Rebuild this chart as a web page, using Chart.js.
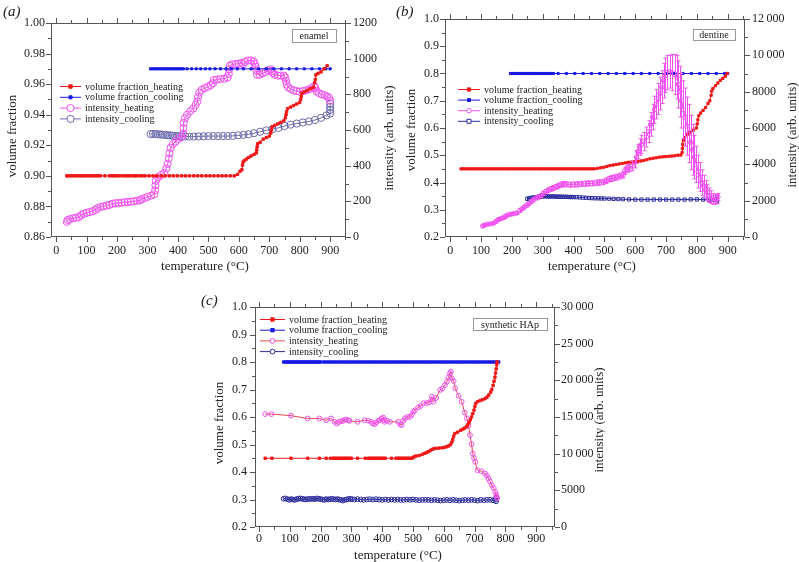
<!DOCTYPE html>
<html>
<head>
<meta charset="utf-8">
<script src="https://cdn.jsdelivr.net/npm/chart.js@4.4.0/dist/chart.umd.min.js"></script>
<style>
  body { margin: 0; background: #fff; width: 799px; height: 562px; position: relative; overflow: hidden; font-family: 'Liberation Serif', serif; }
  canvas { position: absolute; }
  .lbl { position: absolute; font-style: italic; font-size: 15px; line-height: 1; color: #222; }
</style>
</head>
<body>
<canvas id="ca" width="400" height="280" style="left:0;top:0"></canvas>
<canvas id="cb" width="399" height="280" style="left:400px;top:0"></canvas>
<canvas id="cc" width="455" height="282" style="left:150px;top:280px"></canvas>
<div class="lbl" style="left:3px;top:4px">(a)</div>
<div class="lbl" style="left:396px;top:4px">(b)</div>
<div class="lbl" style="left:201px;top:293px">(c)</div>
<script>
// tick labels
const tempTicks = [0, 100, 200, 300, 400, 500, 600, 700, 800, 900];
const enamelVfTicks = [0.86, 0.88, 0.90, 0.92, 0.94, 0.96, 0.98, 1.00];
const enamelIntTicks = [0, 200, 400, 600, 800, 1000, 1200];
const vfTicks = [0.2, 0.3, 0.4, 0.5, 0.6, 0.7, 0.8, 0.9, 1.0];
const dentineIntTicks = [0, 2000, 4000, 6000, 8000, 10000, 12000];
const hapIntTicks = [0, 5000, 10000, 15000, 20000, 25000, 30000];
const seriesNames = ['volume fraction_heating', 'volume fraction_cooling', 'intensity_heating', 'intensity_cooling'];

// (a) enamel: [temperature, value]
const enamelVfHeating = [[35,.90],[40,.90],[48,.90],[55,.90],[62,.90],[70,.90],[78,.90],[85,.90],[92,.90],[100,.90],[108,.90],[115,.90],[122,.90],[130,.90],[138,.90],[145,.90],[160,.90],[175,.90],[183,.90],[190,.90],[198,.90],[205,.90],[215,.90],[225,.90],[232,.90],[240,.90],[250,.90],[258,.90],[265,.90],[275,.90],[283,.90],[292,.90],[305,.90],[318,.90],[330,.90],[345,.90],[358,.90],[372,.90],[385,.90],[398,.90],[412,.90],[425,.90],[438,.90],[452,.90],[465,.90],[478,.90],[492,.90],[505,.90],[518,.90],[532,.90],[545,.90],[558,.90],[572,.90],[585,.90],[596,.901],[604,.903],[610,.904],[612,.907],[614,.909],[618,.910],[625,.911],[632,.912],[640,.913],[650,.914],[657,.915],[659,.917],[660,.919],[662,.921],[670,.922],[680,.924],[690,.925],[700,.926],[705,.928],[707,.930],[709,.932],[718,.933],[728,.934],[738,.935],[748,.936],[753,.938],[755,.940],[757,.942],[760,.944],[770,.945],[780,.946],[790,.947],[800,.948],[803,.950],[805,.952],[807,.954],[815,.955],[825,.956],[835,.957],[845,.958],[849,.961],[851,.963],[853,.966],[860,.967],[870,.968],[880,.970],[890,.972]];
const enamelVfCooling = [[310,.97],[316,.97],[322,.97],[328,.97],[334,.97],[340,.97],[346,.97],[352,.97],[358,.97],[364,.97],[370,.97],[376,.97],[382,.97],[388,.97],[394,.97],[400,.97],[406,.97],[412,.97],[418,.97],[430,.97],[445,.97],[460,.97],[475,.97],[490,.97],[505,.97],[522,.97],[540,.97],[558,.97],[575,.97],[595,.97],[615,.97],[640,.97],[665,.97],[690,.97],[715,.97],[740,.97],[765,.97],[790,.97],[815,.97],[840,.97],[865,.97],[885,.97],[900,.97]];
const enamelIntHeating = [[35,85],[38,95],[45,100],[55,105],[65,108],[75,112],[82,122],[90,130],[100,135],[110,140],[120,145],[130,152],[135,162],[145,168],[155,172],[165,176],[175,180],[185,186],[195,190],[205,190],[215,192],[225,195],[235,196],[245,198],[255,200],[265,203],[275,205],[280,212],[290,218],[300,225],[312,232],[322,240],[325,262],[326,290],[328,315],[335,335],[345,348],[355,360],[362,385],[366,410],[370,440],[372,470],[376,500],[383,520],[392,535],[402,550],[412,560],[417,580],[418,610],[419,640],[423,665],[430,685],[440,705],[450,720],[458,740],[464,760],[466,785],[470,810],[478,825],[488,835],[498,842],[508,852],[515,862],[518,880],[528,883],[540,886],[552,888],[563,895],[567,915],[568,940],[570,960],[578,968],[590,970],[600,972],[608,975],[615,968],[620,982],[630,990],[640,990],[648,985],[652,972],[655,955],[658,935],[660,910],[668,910],[678,918],[688,925],[696,935],[704,940],[708,930],[712,920],[718,910],[728,905],[738,905],[748,905],[752,895],[755,875],[757,855],[762,840],[770,830],[780,822],[790,818],[800,815],[810,818],[820,822],[830,828],[840,835],[848,845],[852,835],[855,818],[862,808],[872,800],[882,795],[890,788],[896,780],[900,765]];
const enamelIntCooling = [[310,577],[318,578],[326,577],[334,576],[342,575],[350,574],[358,572],[366,571],[374,570],[382,568],[390,566],[398,566],[406,565],[414,564],[424,564],[437,563],[452,563],[468,564],[484,565],[500,566],[516,566],[532,566],[548,566],[564,566],[580,567],[598,570],[615,573],[632,576],[650,582],[670,590],[690,598],[710,605],[730,612],[750,622],[770,630],[790,636],[810,642],[830,648],[850,656],[870,668],[888,682],[900,693],[900,712],[900,730],[900,748]];

// (b) dentine
const dentineVfHeating = [[35,.45],[43,.45],[51,.45],[59,.45],[67,.45],[75,.45],[83,.45],[91,.45],[99,.45],[107,.45],[115,.45],[123,.45],[131,.45],[139,.45],[147,.45],[155,.45],[163,.45],[171,.45],[179,.45],[187,.45],[195,.45],[203,.45],[211,.45],[219,.45],[227,.45],[235,.45],[243,.45],[251,.45],[259,.45],[267,.45],[275,.45],[283,.45],[291,.45],[299,.45],[307,.45],[315,.45],[323,.45],[331,.45],[339,.45],[347,.45],[355,.45],[363,.45],[371,.45],[379,.45],[387,.45],[395,.45],[403,.45],[411,.45],[419,.45],[427,.45],[435,.45],[443,.45],[451,.45],[459,.45],[467,.45],[478,.452],[488,.454],[498,.456],[508,.459],[518,.462],[528,.464],[538,.466],[548,.468],[558,.470],[568,.472],[578,.474],[588,.475],[598,.476],[608,.477],[618,.479],[628,.481],[638,.484],[648,.487],[658,.489],[668,.491],[678,.493],[688,.494],[698,.495],[708,.496],[718,.497],[728,.498],[738,.500],[748,.501],[752,.510],[753,.525],[754,.540],[756,.555],[760,.565],[768,.575],[778,.585],[788,.592],[798,.600],[801,.615],[803,.630],[806,.645],[812,.655],[820,.665],[828,.675],[836,.690],[842,.700],[846,.720],[848,.735],[852,.745],[860,.755],[868,.765],[876,.775],[884,.782],[892,.790],[898,.800]];
const dentineVfCooling = [[195,.8],[200,.8],[205,.8],[210,.8],[215,.8],[220,.8],[225,.8],[230,.8],[235,.8],[240,.8],[245,.8],[250,.8],[255,.8],[260,.8],[265,.8],[270,.8],[275,.8],[280,.8],[285,.8],[290,.8],[295,.8],[300,.8],[305,.8],[310,.8],[315,.8],[320,.8],[325,.8],[330,.8],[335,.8],[350,.8],[377,.8],[404,.8],[431,.8],[458,.8],[485,.8],[512,.8],[539,.8],[566,.8],[593,.8],[620,.8],[647,.8],[674,.8],[701,.8],[728,.8],[755,.8],[782,.8],[809,.8],[836,.8],[863,.8],[890,.8],[900,.8]];
// [temperature, intensity, error]
const dentineIntHeating = [[105,600,60],[110,650,60],[120,700,60],[130,720,60],[140,760,60],[148,850,70],[155,950,70],[162,1000,70],[170,1050,70],[178,1120,80],[185,1200,80],[195,1250,80],[205,1280,80],[215,1320,80],[225,1450,90],[232,1550,90],[240,1650,100],[248,1750,100],[255,1850,100],[262,1950,110],[270,2050,110],[278,2150,110],[286,2200,110],[294,2280,120],[302,2400,120],[310,2500,120],[318,2580,120],[326,2650,130],[334,2700,130],[342,2760,130],[350,2820,130],[358,2880,140],[366,2920,140],[376,2900,140],[388,2880,140],[400,2890,140],[412,2900,140],[424,2920,140],[436,2930,140],[448,2950,140],[460,2950,140],[472,2980,150],[484,3000,150],[496,3030,150],[506,3100,150],[514,3180,150],[522,3220,160],[532,3260,160],[542,3300,160],[552,3360,160],[560,3420,170],[566,3650,200],[572,3760,200],[580,3800,200],[590,3900,250],[598,4100,300],[604,4400,350],[608,4700,400],[614,4950,450],[620,5100,500],[628,5250,500],[636,5500,550],[644,5800,600],[650,6200,650],[656,6600,700],[662,7000,750],[668,7300,800],[674,7600,850],[680,7900,900],[686,8250,900],[692,8600,950],[698,8900,950],[704,9050,950],[712,9100,900],[720,9050,1000],[728,8950,1100],[735,8800,1200],[740,8400,1300],[745,8000,1400],[750,7500,1500],[756,7000,1600],[762,6600,1600],[768,6100,1600],[774,5700,1600],[780,5200,1500],[786,4800,1400],[792,4400,1200],[798,4000,1000],[804,3600,900],[810,3300,800],[816,3000,700],[822,2800,600],[828,2600,500],[834,2450,450],[840,2300,400],[846,2200,350],[852,2100,300],[858,2050,250],[864,2100,250],[868,2200,200]];
const dentineIntCooling = [[250,2100],[256,2130],[262,2150],[268,2170],[274,2180],[280,2200],[286,2210],[292,2220],[298,2230],[304,2240],[310,2240],[316,2230],[322,2230],[328,2230],[334,2230],[340,2225],[346,2220],[352,2220],[358,2220],[364,2215],[370,2210],[376,2210],[382,2205],[388,2200],[394,2200],[400,2200],[410,2190],[420,2180],[430,2170],[440,2160],[450,2150],[460,2140],[470,2130],[480,2130],[490,2120],[500,2120],[515,2110],[530,2100],[545,2090],[560,2080],[580,2070],[600,2060],[620,2060],[640,2060],[660,2060],[680,2060],[700,2060],[720,2060],[740,2060],[760,2060],[780,2070],[800,2070],[820,2060],[840,2050],[855,2050],[865,2060],[865,1950],[865,2250]];

// (c) synthetic HAp
const hapVfHeating = [[20,.45],[42,.45],[104,.45],[158,.45],[196,.45],[218,.45],[232,.45],[240,.45],[245,.45],[250,.45],[255,.45],[260,.45],[265,.45],[270,.45],[275,.45],[280,.45],[285,.45],[290,.45],[295,.45],[300,.45],[320,.45],[345,.45],[355,.45],[360,.45],[365,.45],[370,.45],[375,.45],[380,.45],[385,.45],[390,.45],[395,.45],[400,.45],[405,.45],[410,.45],[430,.45],[445,.45],[450,.45],[455,.45],[460,.45],[465,.45],[470,.45],[475,.45],[480,.45],[485,.45],[490,.45],[495,.45],[500,.452],[504,.456],[510,.458],[520,.460],[530,.464],[538,.468],[544,.471],[550,.474],[556,.478],[562,.482],[568,.485],[575,.486],[585,.487],[595,.488],[603,.490],[610,.492],[616,.495],[622,.500],[626,.508],[629,.518],[632,.530],[636,.540],[645,.545],[655,.552],[662,.556],[668,.560],[674,.565],[678,.572],[682,.580],[686,.590],[690,.600],[694,.612],[698,.625],[701,.638],[704,.650],[710,.656],[718,.660],[726,.663],[734,.667],[740,.672],[746,.680],[752,.690],[756,.700],[760,.715],[763,.730],[766,.745],[768,.760],[770,.775],[772,.790],[773,.800]];
const hapVfCooling = [[80,.8],[85,.8],[90,.8],[95,.8],[100,.8],[105,.8],[110,.8],[115,.8],[120,.8],[125,.8],[130,.8],[135,.8],[140,.8],[145,.8],[150,.8],[155,.8],[160,.8],[165,.8],[170,.8],[175,.8],[180,.8],[185,.8],[190,.8],[195,.8],[200,.8],[210,.8],[218,.8],[226,.8],[234,.8],[242,.8],[250,.8],[258,.8],[266,.8],[274,.8],[282,.8],[290,.8],[298,.8],[306,.8],[314,.8],[322,.8],[330,.8],[338,.8],[346,.8],[354,.8],[362,.8],[370,.8],[378,.8],[386,.8],[394,.8],[402,.8],[410,.8],[418,.8],[426,.8],[434,.8],[442,.8],[450,.8],[458,.8],[466,.8],[474,.8],[482,.8],[490,.8],[498,.8],[506,.8],[514,.8],[522,.8],[530,.8],[538,.8],[546,.8],[554,.8],[562,.8],[570,.8],[578,.8],[586,.8],[594,.8],[602,.8],[610,.8],[618,.8],[626,.8],[634,.8],[642,.8],[650,.8],[658,.8],[666,.8],[674,.8],[682,.8],[690,.8],[698,.8],[706,.8],[714,.8],[722,.8],[730,.8],[738,.8],[746,.8],[754,.8],[762,.8],[770,.8],[778,.8]];
const hapIntHeating = [[20,15400],[40,15400],[104,15180],[158,14800],[196,14800],[218,14570],[234,14800],[245,14340],[252,14100],[258,14300],[265,14400],[272,14480],[278,14600],[283,14660],[290,14550],[294,14480],[320,14340],[343,14570],[355,14500],[364,14340],[370,14100],[376,14020],[382,14300],[388,14500],[392,14570],[398,14800],[403,14930],[406,14600],[408,14340],[415,14500],[425,14340],[452,14340],[458,14000],[463,13900],[468,14500],[474,14820],[482,15000],[490,15020],[496,15300],[501,15720],[506,15900],[517,16330],[525,16500],[534,16870],[545,16900],[552,17000],[561,17770],[563,17400],[566,17090],[575,17600],[588,18690],[596,18900],[604,19370],[610,19800],[615,20400],[620,20970],[623,21200],[626,20290],[632,19900],[637,18920],[648,17900],[658,17090],[668,15600],[675,14820],[680,13800],[685,12535],[690,11300],[694,10030],[698,9400],[702,8890],[709,7750],[722,7600],[734,7300],[740,7000],[745,6615],[750,6200],[756,5700],[762,5300],[767,4785],[770,4400],[772,4100],[773,3900]];
const hapIntCooling = [[80,3850],[86,3900],[92,3800],[98,3700],[104,3800],[110,3750],[116,3700],[122,3800],[128,3850],[134,3900],[140,3850],[146,3800],[152,3750],[158,3800],[164,3850],[170,3800],[176,3850],[182,3800],[188,3900],[194,3850],[200,3800],[206,3750],[212,3700],[218,3800],[224,3750],[230,3800],[236,3850],[242,3800],[248,3750],[254,3800],[260,3750],[266,3700],[272,3600],[278,3700],[284,3750],[290,3800],[296,3850],[302,3800],[310,3750],[320,3800],[330,3750],[340,3700],[350,3750],[360,3800],[370,3750],[380,3800],[390,3750],[400,3700],[410,3750],[420,3700],[430,3750],[440,3700],[450,3750],[460,3700],[470,3700],[480,3750],[490,3700],[500,3750],[510,3700],[520,3650],[530,3700],[540,3700],[550,3700],[560,3650],[570,3700],[580,3650],[590,3600],[600,3650],[610,3700],[620,3650],[630,3700],[640,3650],[650,3600],[660,3650],[670,3700],[680,3650],[690,3700],[700,3650],[710,3600],[720,3700],[730,3650],[740,3700],[750,3700],[760,3650],[768,3700],[770,3500],[770,4000]];

const RED = '#f01818', BLUE = '#1a1ae6', PINK = '#f050f0', SLATE = '#6a6aae', NAVY = '#2c2c9c';

Chart.defaults.font.family = "'Liberation Serif', 'Times New Roman', serif";
Chart.defaults.font.size = 12;
Chart.defaults.color = '#222';

function pts(arr) {
  return arr.map(p => ({ x: p[0], y: p[1] }));
}

function ds(i, arr, axis, color, o) {
  return Object.assign({
    label: seriesNames[i], data: pts(arr), yAxisID: axis, showLine: true,
    borderColor: color, borderWidth: 1, pointBorderColor: color,
    pointBackgroundColor: color, pointBorderWidth: 1, pointStyle: 'rect', pointRadius: 1.6
  }, o);
}

function intLabel(v) {
  return v >= 10000 ? Math.floor(v / 1000) + '\u2009' + String(v % 1000).padStart(3, '0') : String(v);
}

function drawMarker(ctx, d, x, y) {
  const r = d.legendRadius || d.pointRadius;
  ctx.beginPath();
  if (d.pointStyle === 'rect') ctx.rect(x - r, y - r, 2 * r, 2 * r);
  else ctx.arc(x, y, r, 0, Math.PI * 2);
  ctx.fillStyle = d.pointBackgroundColor === 'transparent' ? '#fff' : d.pointBackgroundColor;
  ctx.fill();
  ctx.strokeStyle = d.pointBorderColor;
  ctx.stroke();
}

// frame, minor ticks, titles, legend, error bars
const decor = {
  id: 'decor',
  afterDatasetsDraw(chart, args, o) {
    const ctx = chart.ctx, a = chart.chartArea;
    const sx = chart.scales.x, yl = chart.scales.y, yr = chart.scales.y2;
    ctx.save();
    ctx.lineWidth = 1;

    chart.data.datasets.forEach(d => {
      if (!d.errors) return;
      const sc = chart.scales[d.yAxisID];
      ctx.strokeStyle = d.pointBorderColor;
      ctx.beginPath();
      d.data.forEach((p, j) => {
        const e = d.errors[j];
        const px = Math.round(sx.getPixelForValue(p.x)) + 0.5;
        const y1 = sc.getPixelForValue(p.y - e), y2 = sc.getPixelForValue(p.y + e);
        ctx.moveTo(px, y1); ctx.lineTo(px, y2);
        ctx.moveTo(px - 2, y1); ctx.lineTo(px + 2, y1);
        ctx.moveTo(px - 2, y2); ctx.lineTo(px + 2, y2);
      });
      ctx.stroke();
    });

    ctx.strokeStyle = '#555';
    ctx.strokeRect(a.left + 0.5, a.top + 0.5, a.right - a.left - 1, a.bottom - a.top - 1);
    ctx.beginPath();
    const marks = (sc, step, fn) => {
      const n0 = Math.ceil(sc.min / step - 1e-6), n1 = Math.floor(sc.max / step + 1e-6);
      for (let n = n0; n <= n1; n++) fn(Math.round(sc.getPixelForValue(n * step)) + 0.5, n);
    };
    marks(sx, o.xStep / 2, (p, n) => {
      const len = n % 2 === 0 ? 5 : 3;
      ctx.moveTo(p, a.bottom); ctx.lineTo(p, a.bottom + len);
      ctx.moveTo(p, a.top); ctx.lineTo(p, a.top - len);
    });
    marks(yl, o.yStep / 2, (p, n) => {
      const len = n % 2 === 0 ? 5 : 3;
      ctx.moveTo(a.left, p); ctx.lineTo(a.left - len, p);
    });
    marks(yr, o.y2Step / 2, (p, n) => {
      const len = n % 2 === 0 ? 5 : 3;
      ctx.moveTo(a.right, p); ctx.lineTo(a.right + len, p);
    });
    ctx.stroke();

    ctx.fillStyle = '#222';
    ctx.font = "13px 'Liberation Serif'";
    ctx.textAlign = 'center';
    ctx.textBaseline = 'middle';
    ctx.fillText('temperature (\u00b0C)', o.bottomTitle[0], o.bottomTitle[1]);
    [[o.leftTitle, 'volume fraction'], [o.rightTitle, 'intensity (arb. units)']].forEach(t => {
      ctx.save();
      ctx.translate(t[0][0], t[0][1]);
      ctx.rotate(-Math.PI / 2);
      ctx.fillText(t[1], 0, 0);
      ctx.restore();
    });

    ctx.font = "10px 'Liberation Serif'";
    ctx.textAlign = 'left';
    chart.data.datasets.forEach((d, i) => {
      const y = o.legend.y + i * o.legend.dy, x = o.legend.x;
      ctx.strokeStyle = d.borderColor;
      ctx.beginPath(); ctx.moveTo(x, y + 0.5); ctx.lineTo(x + o.legend.len, y + 0.5); ctx.stroke();
      drawMarker(ctx, d, x + o.legend.len / 2, y + 0.5);
      ctx.fillStyle = '#222';
      ctx.fillText(d.label, x + o.legend.len + 4, y + 1);
    });

    const b = o.box;
    ctx.strokeStyle = '#999';
    ctx.strokeRect(b.x + 0.5, b.y + 0.5, b.w, b.h);
    ctx.textAlign = 'center';
    ctx.fillStyle = '#222';
    ctx.fillText(b.text, b.x + b.w / 2, b.y + b.h / 2 + 1);
    ctx.restore();
  }
};

function panel(id, o) {
  new Chart(document.getElementById(id), {
    type: 'scatter',
    data: { datasets: o.datasets },
    options: {
      responsive: false,
      animation: false,
      layout: { padding: { top: o.top, left: 0, right: 0, bottom: 0 } },
      plugins: { legend: { display: false }, tooltip: { enabled: false }, decor: o.decor },
      scales: {
        x: {
          type: 'linear', position: 'bottom', min: o.xMin, max: o.xMax,
          grid: { display: false, drawTicks: false }, border: { display: false },
          ticks: { padding: o.pad[2], maxRotation: 0, autoSkip: false },
          afterBuildTicks: s => { s.ticks = tempTicks.map(v => ({ value: v })); },
          afterFit: s => { s.height = o.bottom; }
        },
        y: {
          type: 'linear', position: 'left', min: o.yTicks[0], max: o.yTicks[o.yTicks.length - 1],
          grid: { display: false, drawTicks: false }, border: { display: false },
          ticks: { padding: o.pad[0], autoSkip: false, callback: v => v.toFixed(o.yDec) },
          afterBuildTicks: s => { s.ticks = o.yTicks.map(v => ({ value: v })); },
          afterFit: s => { s.width = o.leftW; }
        },
        y2: {
          type: 'linear', position: 'right', min: 0, max: o.y2Ticks[o.y2Ticks.length - 1],
          grid: { display: false, drawTicks: false }, border: { display: false },
          ticks: { padding: o.pad[1], autoSkip: false, callback: v => intLabel(v) },
          afterBuildTicks: s => { s.ticks = o.y2Ticks.map(v => ({ value: v })); },
          afterFit: s => { s.width = o.rightW; }
        }
      }
    },
    plugins: [decor]
  });
}

panel('ca', {
  xMin: -17, xMax: 952, yTicks: enamelVfTicks, yDec: 2, y2Ticks: enamelIntTicks,
  top: 23, bottom: 43, leftW: 51, rightW: 54, pad: [6, 7, 7],
  datasets: [
    ds(0, enamelVfHeating, 'y', RED, { pointRadius: 1.7 }),
    ds(1, enamelVfCooling, 'y', BLUE, { pointRadius: 1.5 }),
    ds(2, enamelIntHeating, 'y2', PINK, { pointStyle: 'circle', pointRadius: 3.6, pointBackgroundColor: 'transparent' }),
    ds(3, enamelIntCooling, 'y2', SLATE, { pointStyle: 'circle', pointRadius: 3.6, pointBackgroundColor: 'transparent' })
  ],
  decor: {
    xStep: 100, yStep: 0.02, y2Step: 200,
    bottomTitle: [205, 267], leftTitle: [13, 136], rightTitle: [390, 138],
    legend: { x: 60, y: 86, dy: 10.8, len: 21 },
    box: { x: 292, y: 29, w: 44, h: 13, text: 'enamel' }
  }
});

panel('cb', {
  xMin: -17, xMax: 956, yTicks: vfTicks, yDec: 1, y2Ticks: dentineIntTicks,
  top: 19, bottom: 43, leftW: 45, rightW: 54, pad: [6, 7, 7],
  datasets: [
    ds(0, dentineVfHeating, 'y', RED, { pointRadius: 1.6 }),
    ds(1, dentineVfCooling, 'y', BLUE, { pointRadius: 1.5 }),
    Object.assign(ds(2, dentineIntHeating, 'y2', PINK, { pointStyle: 'circle', pointRadius: 2.2, pointBackgroundColor: 'transparent' }),
      { errors: dentineIntHeating.map(p => p[2]) }),
    ds(3, dentineIntCooling, 'y2', NAVY, { pointStyle: 'rect', pointRadius: 2.3, pointBackgroundColor: 'transparent', legendRadius: 2 })
  ],
  decor: {
    xStep: 100, yStep: 0.1, y2Step: 2000,
    bottomTitle: [192, 267], leftTitle: [12, 130], rightTitle: [393, 135],
    legend: { x: 58, y: 89, dy: 10.6, len: 22 },
    box: { x: 293, y: 29, w: 42, h: 11, text: 'dentine' }
  }
});

panel('cc', {
  xMin: -13, xMax: 961, yTicks: vfTicks, yDec: 1, y2Ticks: hapIntTicks,
  top: 27, bottom: 35, leftW: 105, rightW: 50, pad: [8, 6, 5],
  datasets: [
    ds(0, hapVfHeating, 'y', RED, { pointRadius: 1.7 }),
    ds(1, hapVfCooling, 'y', BLUE, { pointRadius: 1.7 }),
    ds(2, hapIntHeating, 'y2', '#e84848', { pointStyle: 'circle', pointRadius: 2.4, pointBorderColor: PINK, pointBackgroundColor: 'transparent' }),
    ds(3, hapIntCooling, 'y2', NAVY, { pointStyle: 'circle', pointRadius: 2.4, pointBackgroundColor: 'transparent' })
  ],
  decor: {
    xStep: 100, yStep: 0.1, y2Step: 5000,
    bottomTitle: [248, 276], leftTitle: [70, 143], rightTitle: [450, 140],
    legend: { x: 110, y: 39, dy: 10.7, len: 25 },
    box: { x: 323, y: 38, w: 74, h: 12, text: 'synthetic HAp' }
  }
});
</script>
</body>
</html>
